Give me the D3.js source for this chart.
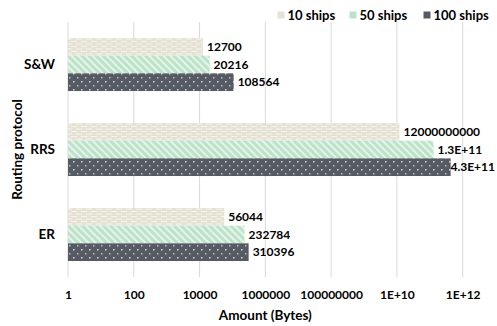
<!DOCTYPE html>
<html><head><meta charset="utf-8">
<script src="https://cdn.jsdelivr.net/npm/d3@7"></script>
<style>body{margin:0;background:#fff}svg{display:block}text{font-family:Lato,"Open Sans",sans-serif;font-weight:bold;fill:#000}</style>
</head><body>
<script>
const categories = ["S&W", "RRS", "ER"];
const seriesNames = ["10 ships", "50 ships", "100 ships"];
const ships10 = [12700, 12000000000, 56044];
const ships50 = [20216, 1.3e11, 232784];
const ships100 = [108564, 4.3e11, 310396];
const valueLabels10 = ["12700", "12000000000", "56044"];
const valueLabels50 = ["20216", "1.3E+11", "232784"];
const valueLabels100 = ["108564", "4.3E+11", "310396"];
const tickValues = [1, 100, 10000, 1000000, 100000000, 1e10, 1e12];
const tickLabels = ["1", "100", "10000", "1000000", "100000000", "1E+10", "1E+12"];

(function(){
const W = 497, H = 326;
const svg = d3.select("body").append("svg").attr("width", W).attr("height", H);
const defs = svg.append("defs");

const p1 = defs.append("pattern").attr("id","p10").attr("patternUnits","userSpaceOnUse").attr("width",10).attr("height",5);
p1.append("rect").attr("width",10).attr("height",5).attr("fill","#E6E2D3");
p1.append("rect").attr("x",1).attr("y",1).attr("width",6).attr("height",1).attr("fill","#F6F4EE");
p1.append("rect").attr("x",6).attr("y",3.5).attr("width",6).attr("height",1).attr("fill","#F6F4EE");
p1.append("rect").attr("x",-4).attr("y",3.5).attr("width",6).attr("height",1).attr("fill","#F6F4EE");

const p2 = defs.append("pattern").attr("id","p50").attr("patternUnits","userSpaceOnUse").attr("width",5).attr("height",5).attr("patternTransform","rotate(-45)");
p2.append("rect").attr("width",5).attr("height",5).attr("fill","#BCE2C9");
p2.append("rect").attr("width",2).attr("height",5).attr("fill","#E4F4EA");

const p3 = defs.append("pattern").attr("id","p100").attr("patternUnits","userSpaceOnUse").attr("width",8).attr("height",8);
p3.append("rect").attr("width",8).attr("height",8).attr("fill","#565A63");
p3.append("rect").attr("x",1).attr("y",1).attr("width",1.5).attr("height",1.5).attr("fill","#D8DADF");
p3.append("rect").attr("x",5).attr("y",5).attr("width",1.5).attr("height",1.5).attr("fill","#B9BCC3");

const fills = ["url(#p10)", "url(#p50)", "url(#p100)"];
const swatch = ["#E6E2D3", "#BCE2C9", "#565A63"];

const pl = 68, pr = 462.7, pt = 22, pb = 277;
const x = d3.scaleLog().domain([1, 1e12]).range([pl, pr]);
const y = d3.scaleBand().domain(categories).range([pt, pb]).paddingInner(0.376).paddingOuter(0.188);
const yi = d3.scaleBand().domain(seriesNames).range([0, y.bandwidth()]);

svg.append("g").selectAll("line").data(tickValues).join("line")
  .attr("x1", d => x(d)).attr("x2", d => x(d)).attr("y1", pt).attr("y2", pb)
  .attr("stroke", "#D9D9D9").attr("stroke-width", 1);

const xAxis = d3.axisBottom(x).tickValues(tickValues).tickFormat((d,i) => tickLabels[i]).tickSize(0).tickPadding(0);
const gx = svg.append("g").attr("transform", `translate(0,${pb + 13})`).call(xAxis);
gx.select(".domain").remove();
gx.selectAll("text").attr("font-size", 12).attr("font-family", "Lato").attr("font-weight","bold").attr("fill","#000");

const yAxis = d3.axisLeft(y).tickSize(0).tickPadding(0);
const gy = svg.append("g").attr("transform", `translate(55,0)`).call(yAxis);
gy.select(".domain").remove();
gy.selectAll("text").attr("font-size", 13.5).attr("font-family", "Lato").attr("font-weight","bold").attr("fill","#000");

const series = [ships10, ships50, ships100];
const labels = [valueLabels10, valueLabels50, valueLabels100];
series.forEach((vals, si) => {
  const g = svg.append("g");
  g.selectAll("rect").data(vals).join("rect")
    .attr("x", pl).attr("y", (d,i) => y(categories[i]) + yi(seriesNames[si]))
    .attr("width", d => x(d) - pl).attr("height", yi.bandwidth())
    .attr("fill", fills[si]);
  g.selectAll("text").data(vals).join("text")
    .attr("x", d => x(d) + 4).attr("y", (d,i) => y(categories[i]) + yi(seriesNames[si]) + yi.bandwidth()/2)
    .attr("dy", "0.35em").attr("font-size", 12)
    .text((d,i) => labels[si][i])
    .each(function(){
      const len = this.getComputedTextLength();
      const cx = +this.getAttribute("x");
      if (cx + len > W - 2) this.setAttribute("x", W - 2 - len);
    });
});

svg.append("text").attr("x", (pl + pr)/2).attr("y", 315).attr("dy","0.35em").attr("text-anchor","middle").attr("font-size",13.5).text("Amount (Bytes)");
svg.append("text").attr("transform", `translate(17,${(pt+pb)/2}) rotate(-90)`).attr("dy","0.35em").attr("text-anchor","middle").attr("font-size",13.5).text("Routing protocol");

const legX = [277.5, 349.5, 423.5];
const lg = svg.append("g");
seriesNames.forEach((n, i) => {
  lg.append("rect").attr("x", legX[i]).attr("y", 11.5).attr("width", 7).attr("height", 7).attr("fill", swatch[i]);
  lg.append("text").attr("x", legX[i] + 10).attr("y", 15).attr("dy","0.35em").attr("font-size", 13).text(n);
});
})();
</script>
</body></html>
